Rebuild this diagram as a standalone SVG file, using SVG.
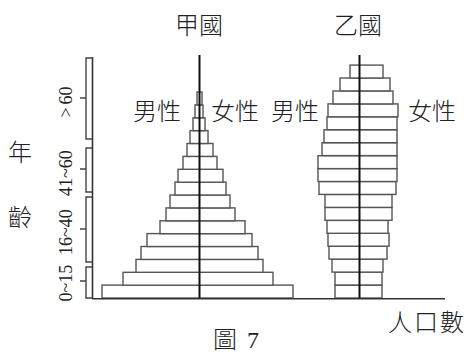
<svg xmlns="http://www.w3.org/2000/svg" width="471" height="354" viewBox="0 0 471 354">
<style>
.bar{fill:#fff;stroke:#555;stroke-width:1.4}
.ax{fill:none;stroke:#333;stroke-width:1.6}
.br{fill:none;stroke:#444;stroke-width:1.4}
.mid{stroke:#111;stroke-width:2}
.cjk{font-family:"Noto Sans CJK TC","Noto Sans CJK SC",sans-serif;font-size:24px;font-weight:300;fill:#222}
.num{font-family:"Liberation Serif",serif;font-size:18px;fill:#222}
</style>
<rect width="471" height="354" fill="#fff"/>
<g id="pyramid-jia">
<rect class="bar" x="102" y="285.1" width="191" height="12.9"/>
<rect class="bar" x="123" y="272.3" width="150" height="12.9"/>
<rect class="bar" x="136" y="259.4" width="127" height="12.9"/>
<rect class="bar" x="141" y="246.5" width="117" height="12.9"/>
<rect class="bar" x="147" y="233.6" width="105" height="12.9"/>
<rect class="bar" x="160" y="220.8" width="85" height="12.9"/>
<rect class="bar" x="166" y="207.9" width="69" height="12.9"/>
<rect class="bar" x="170" y="195" width="60" height="12.9"/>
<rect class="bar" x="175" y="182.1" width="51" height="12.9"/>
<rect class="bar" x="178" y="169.3" width="45" height="12.9"/>
<rect class="bar" x="183" y="156.4" width="34" height="12.9"/>
<rect class="bar" x="187" y="143.5" width="26" height="12.9"/>
<rect class="bar" x="190" y="130.6" width="18" height="12.9"/>
<rect class="bar" x="193" y="117.8" width="12" height="12.9"/>
<rect class="bar" x="195" y="104.9" width="8" height="12.9"/>
<rect class="bar" x="197" y="92" width="5" height="12.9"/>
<line class="mid" x1="199.5" y1="55" x2="199.5" y2="298"/>
</g>
<g id="pyramid-yi">
<rect class="bar" x="335" y="285.1" width="47" height="12.9"/>
<rect class="bar" x="335" y="272.1" width="47" height="12.9"/>
<rect class="bar" x="332" y="259.2" width="51" height="12.9"/>
<rect class="bar" x="329" y="246.2" width="58" height="12.9"/>
<rect class="bar" x="328" y="233.3" width="61" height="12.9"/>
<rect class="bar" x="327" y="220.4" width="61" height="12.9"/>
<rect class="bar" x="325" y="207.4" width="67" height="12.9"/>
<rect class="bar" x="325" y="194.5" width="67" height="12.9"/>
<rect class="bar" x="319" y="181.5" width="77" height="12.9"/>
<rect class="bar" x="318" y="168.6" width="79" height="12.9"/>
<rect class="bar" x="318" y="155.7" width="79" height="12.9"/>
<rect class="bar" x="322" y="142.7" width="75" height="12.9"/>
<rect class="bar" x="324" y="129.8" width="73" height="12.9"/>
<rect class="bar" x="327" y="116.8" width="70" height="12.9"/>
<rect class="bar" x="328" y="103.9" width="70" height="12.9"/>
<rect class="bar" x="333" y="91" width="60" height="12.9"/>
<rect class="bar" x="340" y="78" width="50" height="12.9"/>
<rect class="bar" x="350" y="65.1" width="33" height="12.9"/>
<line class="mid" x1="359.5" y1="55" x2="359.5" y2="298"/>
</g>
<g id="axes">
<line class="ax" x1="92.5" y1="57" x2="92.5" y2="299"/>
<line class="ax" x1="92" y1="298.8" x2="445" y2="298.8"/>
</g>
<g id="brackets">
<path class="br" d="M92 58H86V139H92M86 98H80"/>
<path class="br" d="M92 148H86V192H92M86 169H80"/>
<path class="br" d="M92 197H86V262H92M86 229H80"/>
<path class="br" d="M92 267H86V298H92M86 281H80"/>
</g>
<g id="age-labels">
<text class="num" text-anchor="middle" transform="translate(72,102) rotate(-90)">&gt;<tspan dx="3">60</tspan></text>
<text class="num" text-anchor="middle" transform="translate(72,173) rotate(-90)">41~60</text>
<text class="num" text-anchor="middle" transform="translate(72,232) rotate(-90)">16~40</text>
<text class="num" text-anchor="middle" transform="translate(72,283) rotate(-90)">0~15</text>
</g>
<g id="texts">
<text class="cjk" x="199" y="34" text-anchor="middle">甲國</text>
<text class="cjk" x="358" y="34" text-anchor="middle">乙國</text>
<text class="cjk" x="157" y="120" text-anchor="middle">男性</text>
<text class="cjk" x="235" y="120" text-anchor="middle">女性</text>
<text class="cjk" x="295" y="120" text-anchor="middle">男性</text>
<text class="cjk" x="432" y="120" text-anchor="middle">女性</text>
<text class="cjk" x="20" y="161" text-anchor="middle">年</text>
<text class="cjk" x="20" y="226" text-anchor="middle">齡</text>
<text class="cjk" x="427" y="331" text-anchor="middle" letter-spacing="2">人口數</text>
<text class="cjk" x="213" y="348">圖<tspan x="247" font-family="Liberation Serif, serif">7</tspan></text>
</g>
</svg>
